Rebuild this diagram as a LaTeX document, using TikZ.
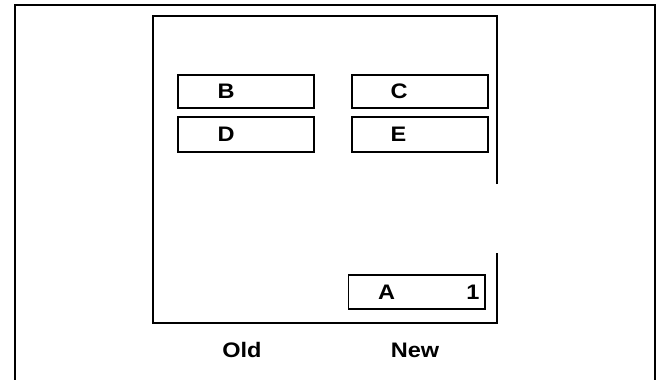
\documentclass[tikz,border=0pt]{standalone}
\usepackage{fontspec}
\setmainfont[FakeStretch=1.12]{Liberation Sans}
\usetikzlibrary{positioning}

\begin{document}
\begin{tikzpicture}[x=1pt, y=-1pt,
	slot/.style={draw, line width=1.1pt, inner sep=0pt},
	letter/.style={inner sep=0pt, font=\fontsize{21}{24}\selectfont\bfseries}]
			\useasboundingbox (0,0) rectangle (657,380);
			% Cornice esterna (aperta in basso)
			\draw[line width=2pt] (15,380) -- (15,5) -- (655,5) -- (655,380);
			% Riquadro interno (lato destro interrotto)
			\draw[line width=1.2pt] (497,184) -- (497,16) -- (153,16) -- (153,323) -- (497,323) -- (497,253);
			
			% Caselle
			\node (b) at (246, 91.5) [slot, minimum width=136pt, minimum height=33pt] {};
			\node (c) at (420, 91.5) [slot, minimum width=136pt, minimum height=33pt] {};
			\node (d) at (246, 134.5) [slot, minimum width=136pt, minimum height=35pt] {};
			\node (e) at (420, 134.5) [slot, minimum width=136pt, minimum height=35pt] {};
			\node (a) at (416.75, 292) [slot, minimum width=136.5pt, minimum height=34pt] {};
			
			% Lettere
			\node (lb) [letter, right=40pt of b.west] {B};
			\node (lc) [letter, right=39pt of c.west] {C};
			\node (ld) [letter, right=40pt of d.west] {D};
			\node (le) [letter, right=39pt of e.west] {E};
			\node (la) [letter, right=30pt of a.west] {A};
			\node (na) [letter, left=6pt of a.east] {1};
			
			% Colonne
			\node (old) at (242, 350) [letter] {Old};
			\node (new) at (415, 350) [letter] {New};
		\end{tikzpicture}
\end{document}
